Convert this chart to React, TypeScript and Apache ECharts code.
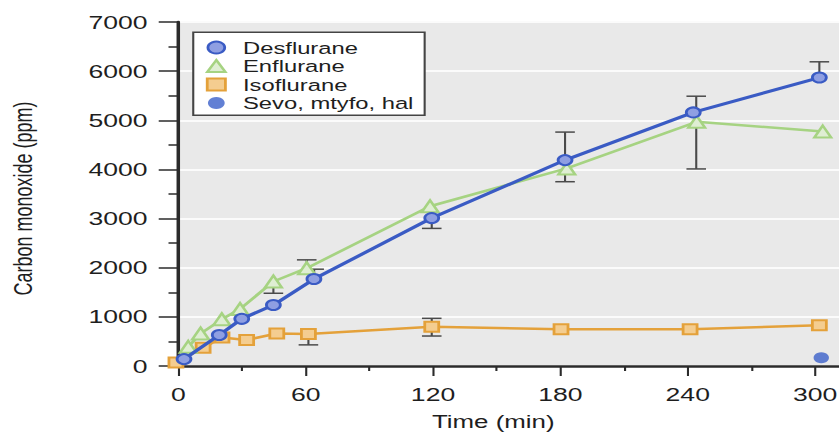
import React, { useEffect, useRef } from "react";
import * as echarts from "echarts";

// ---- data ----
const seriesNames = ["Desflurane", "Enflurane", "Isoflurane", "Sevo, mtyfo, hal"];

const desfluraneTime = [2.7, 19.3, 29.9, 44.8, 63.9, 119.4, 182.2, 242.6, 302];
const desfluraneCO = [140, 630, 960, 1240, 1770, 3010, 4190, 5160, 5870];

const enfluraneTime = [4.7, 10.5, 20.5, 29.1, 44.8, 60.5, 118.6, 183, 244.2, 303.6];
const enfluraneCO = [390, 660, 950, 1160, 1720, 1990, 3250, 4020, 4970, 4770];

const isofluraneTime = [-1.1, 11.7, 20.6, 32.2, 46.4, 61.3, 119.4, 180.3, 241.1, 302];
const isofluraneCO = [70, 370, 580, 530, 660, 650, 800, 750, 750, 830];

const sevoTime = [302.9];
const sevoCO = [170];

// one-sided error bars: from the mean to the limit
const errorTime = [44.8, 60.5, 64, 61.3, 119.4, 119.4, 119.4, 182.2, 182.2, 244, 244, 302];
const errorMean = [1720, 1990, 1770, 650, 800, 800, 3010, 4190, 4190, 5160, 5160, 5870];
const errorLimit = [1480, 2160, 1970, 430, 610, 970, 2800, 4760, 3750, 5490, 4010, 6190];

const xTickLabels = [0, 60, 120, 180, 240, 300];
const yTickLabels = [0, 1000, 2000, 3000, 4000, 5000, 6000, 7000];

const FONT = "Liberation Sans, Arial, Helvetica, sans-serif";
const CHART_W = 600;
const STRETCH = 839 / CHART_W;

const BLUE = "#3a5bc4";
const GREEN = "#a6d382";
const ORANGE = "#e4a13a";
const AXIS = "#2b2b2b";

export default function App() {
  const ref = useRef<HTMLDivElement>(null);

  useEffect(() => {
    if (!ref.current) return;
    const chart = echarts.init(ref.current, null, { renderer: "svg" });

    const option: any = {
      animation: false,
      textStyle: { fontFamily: FONT },
      grid: {
        left: 127.5,
        top: 22,
        bottom: 66,
        width: 546.5,
        show: true,
        backgroundColor: "#e9e9e9",
        borderWidth: 0,
        containLabel: false,
        outerBoundsMode: "none",
      },
      legend: {
        orient: "vertical",
        left: 138.2,
        top: 32.3,
        itemWidth: 13,
        itemHeight: 12,
        itemGap: 0,
        padding: [6, 8, 3, 9],
        backgroundColor: "#ffffff",
        borderColor: "#444",
        borderWidth: 1.5,
        selectedMode: false,
        textStyle: {
          fontFamily: FONT,
          fontSize: 17,
          color: "#1e1e1e",
          lineHeight: 18.5,
          padding: [0, 0, 0, 7.6],
        },
        data: [
          { name: seriesNames[0], icon: "circle", itemStyle: { color: "#8f9fe2", borderColor: BLUE, borderWidth: 2 } },
          { name: seriesNames[1], icon: "triangle", itemStyle: { color: "#dfeed3", borderColor: GREEN, borderWidth: 2 } },
          { name: seriesNames[2], icon: "rect", itemStyle: { color: "#f4cd90", borderColor: ORANGE, borderWidth: 2 } },
          { name: seriesNames[3], icon: "circle", itemStyle: { color: "#3b60c9", borderWidth: 0 } },
        ],
      },
      xAxis: {
        type: "value",
        min: 0,
        max: 360,
        interval: 60,
        name: "Time (min)",
        nameLocation: "middle",
        nameGap: 46,
        nameTextStyle: { fontSize: 18.5, color: "#1e1e1e", fontFamily: FONT, padding: [0, 96, 0, 0] },
        axisLine: { show: true, onZero: false, lineStyle: { color: AXIS, width: 2.5 } },
        axisTick: { show: true, length: 10, lineStyle: { color: AXIS, width: 1.5 } },
        minorTick: { show: true, splitNumber: 2, length: 5, lineStyle: { color: AXIS, width: 1.5 } },
        axisLabel: {
          margin: 19,
          fontSize: 19,
          color: "#1e1e1e",
          fontFamily: FONT,
          formatter: (v: number) => (xTickLabels.includes(v) ? String(v) : ""),
        },
        splitLine: { show: false },
        minorSplitLine: { show: false },
      },
      yAxis: {
        type: "value",
        min: 0,
        max: 7000,
        interval: 1000,
        name: "Carbon monoxide (ppm)",
        nameLocation: "middle",
        nameGap: 102,
        nameTextStyle: { fontSize: 18, color: "#1e1e1e", fontFamily: FONT, padding: [0, 9, 0, 0] },
        axisLine: { show: true, lineStyle: { color: AXIS, width: 2.5 } },
        axisTick: { show: true, length: 14, lineStyle: { color: AXIS, width: 1.5 } },
        minorTick: { show: true, splitNumber: 2, length: 7, lineStyle: { color: AXIS, width: 1.5 } },
        axisLabel: {
          margin: 22,
          fontSize: 19,
          color: "#1e1e1e",
          fontFamily: FONT,
          formatter: (v: number) => (yTickLabels.includes(v) ? String(v) : ""),
        },
        splitLine: { show: true, lineStyle: { color: "#fbfbfb", width: 2 } },
      },
      series: [
        {
          type: "custom",
          name: "error",
          z: 1,
          clip: false,
          encode: { x: 0, y: [1, 2] },
          data: errorTime.map((t, i) => [t, errorMean[i], errorLimit[i]]),
          renderItem: (params: any, api: any) => {
            const t = api.value(0);
            const p0 = api.coord([t, api.value(1)]);
            const p1 = api.coord([t, api.value(2)]);
            const w = 7;
            const style = { stroke: "#4a4a4a", lineWidth: 1.5 };
            return {
              type: "group",
              children: [
                { type: "line", shape: { x1: p0[0], y1: p0[1], x2: p1[0], y2: p1[1] }, style },
                { type: "line", shape: { x1: p1[0] - w, y1: p1[1], x2: p1[0] + w, y2: p1[1] }, style },
              ],
            };
          },
        },
        {
          type: "line",
          name: seriesNames[2],
          z: 2,
          clip: false,
          data: isofluraneTime.map((t, i) => [t, isofluraneCO[i]]),
          symbol: "rect",
          symbolSize: 10,
          lineStyle: { color: ORANGE, width: 2.5 },
          itemStyle: { color: "#f4cd90", borderColor: ORANGE, borderWidth: 2 },
        },
        {
          type: "line",
          name: seriesNames[1],
          z: 3,
          clip: false,
          data: enfluraneTime.map((t, i) => [t, enfluraneCO[i]]),
          symbol: "triangle",
          symbolSize: 12,
          lineStyle: { color: GREEN, width: 2.5 },
          itemStyle: { color: "#dfeed3", borderColor: GREEN, borderWidth: 2 },
        },
        {
          type: "line",
          name: seriesNames[0],
          z: 4,
          clip: false,
          data: desfluraneTime.map((t, i) => [t, desfluraneCO[i]]),
          symbol: "circle",
          symbolSize: 10,
          lineStyle: { color: BLUE, width: 3 },
          itemStyle: { color: "#8f9fe2", borderColor: BLUE, borderWidth: 2 },
        },
        {
          type: "scatter",
          name: seriesNames[3],
          z: 4,
          data: sevoTime.map((t, i) => [t, sevoCO[i]]),
          symbol: "circle",
          symbolSize: 11,
          itemStyle: { color: "#3b60c9" },
        },
      ],
    };

    chart.setOption(option);
    return () => chart.dispose();
  }, []);

  return (
    <div
      ref={ref}
      style={{
        position: "fixed",
        left: 0,
        top: 0,
        width: CHART_W,
        height: 432,
        transform: `scaleX(${STRETCH})`,
        transformOrigin: "0 0",
        overflow: "hidden",
        background: "#ffffff",
      }}
    />
  );
}
